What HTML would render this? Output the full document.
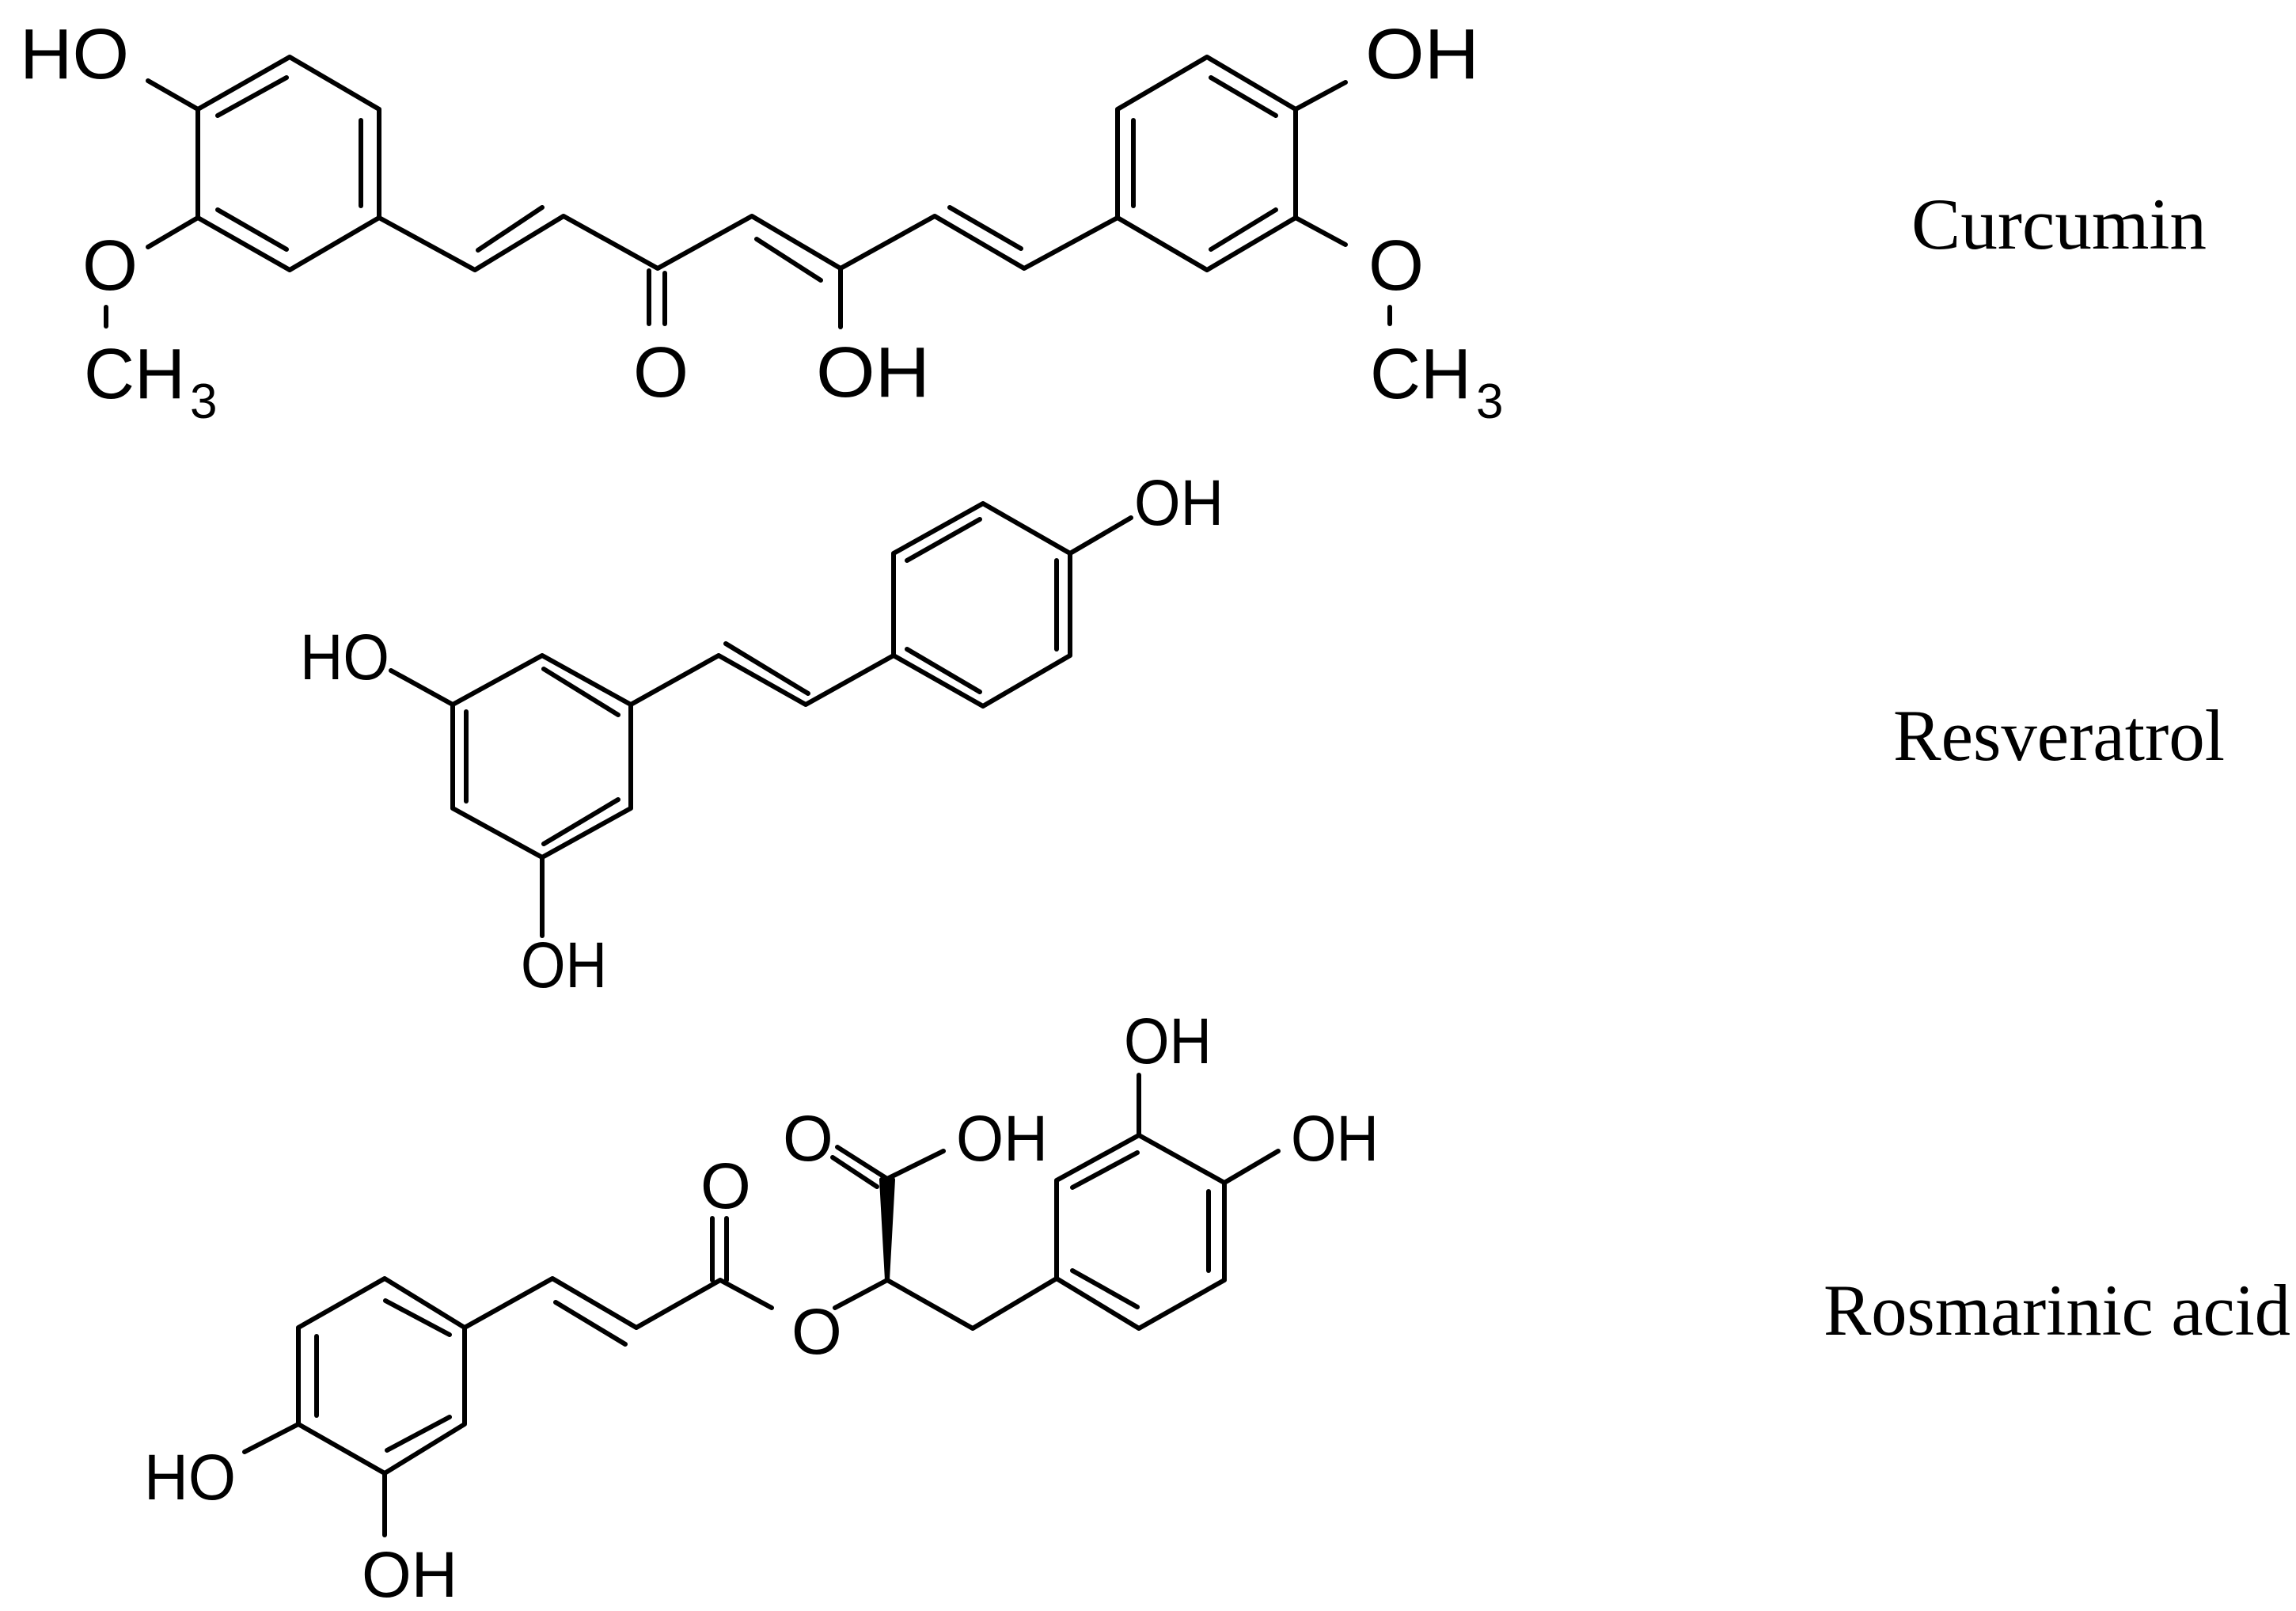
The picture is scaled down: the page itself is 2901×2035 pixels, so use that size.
<!DOCTYPE html>
<html><head><meta charset="utf-8"><style>html,body{margin:0;padding:0;background:#fff}svg{display:block}</style></head>
<body>
<svg width="2901" height="2035" viewBox="0 0 2901 2035" xmlns="http://www.w3.org/2000/svg">
<g stroke="#000" stroke-width="6" fill="none" stroke-linecap="round" stroke-linejoin="round">
<!-- Curcumin left ring -->
<polygon points="366,72 479,138 479,275 366,341 250,275 250,138"/>
<line x1="275" y1="146" x2="362" y2="98"/>
<line x1="456" y1="152" x2="456" y2="260"/>
<line x1="275" y1="265" x2="362" y2="315"/>
<line x1="187" y1="102" x2="250" y2="138"/>
<line x1="250" y1="275" x2="187" y2="312"/>
<line x1="134" y1="388" x2="134" y2="412"/>
<!-- chain -->
<polyline points="479,275 600,341 712,273 831,339 950,273 1062,339 1181,273 1294,339 1412,275"/>
<line x1="604" y1="316" x2="685" y2="262"/>
<line x1="956" y1="302" x2="1037" y2="354"/>
<line x1="1200" y1="262" x2="1290" y2="314"/>
<line x1="820" y1="342" x2="820" y2="409"/>
<line x1="840" y1="345" x2="840" y2="409"/>
<line x1="1062" y1="339" x2="1062" y2="413"/>
<!-- right ring -->
<polygon points="1412,275 1412,138 1525,72 1637,138 1637,275 1525,341"/>
<line x1="1432" y1="152" x2="1432" y2="260"/>
<line x1="1530" y1="98" x2="1612" y2="146"/>
<line x1="1530" y1="315" x2="1612" y2="265"/>
<line x1="1637" y1="138" x2="1700" y2="104"/>
<line x1="1637" y1="275" x2="1700" y2="309"/>
<line x1="1756" y1="388" x2="1756" y2="409"/>

<!-- Resveratrol -->
<polygon points="685,828 797,890 797,1021 685,1083 572,1021 572,890"/>
<line x1="687" y1="845" x2="781" y2="903"/>
<line x1="589" y1="899" x2="589" y2="1012"/>
<line x1="687" y1="1066" x2="781" y2="1010"/>
<line x1="494" y1="847" x2="572" y2="890"/>
<line x1="685" y1="1083" x2="685" y2="1182"/>
<polyline points="797,890 908,828 1018,890 1129,828"/>
<line x1="917" y1="813" x2="1021" y2="876"/>
<polygon points="1129,828 1129,699 1242,636 1352,699 1352,828 1242,892"/>
<line x1="1146" y1="708" x2="1238" y2="656"/>
<line x1="1335" y1="708" x2="1335" y2="820"/>
<line x1="1146" y1="820" x2="1238" y2="874"/>
<line x1="1352" y1="699" x2="1429" y2="654"/>

<!-- Rosmarinic acid -->
<polygon points="486,1615 587,1677 587,1799 486,1861 377,1799 377,1677"/>
<line x1="487" y1="1643" x2="568" y2="1686"/>
<line x1="400" y1="1688" x2="400" y2="1788"/>
<line x1="489" y1="1832" x2="568" y2="1790"/>
<line x1="377" y1="1799" x2="309" y2="1834"/>
<line x1="486" y1="1861" x2="486" y2="1939"/>
<polyline points="587,1677 698,1615 804,1677 910,1617 975,1652"/>
<line x1="702" y1="1645" x2="790" y2="1698"/>
<line x1="900" y1="1617" x2="900" y2="1539"/>
<line x1="918" y1="1617" x2="918" y2="1539"/>
<polyline points="1055,1652 1121,1617 1229,1678 1335,1615"/>
<polygon points="1121,1617 1114,1490 1128,1490" fill="#000"/>
<line x1="1121" y1="1489" x2="1058" y2="1449"/>
<line x1="1108" y1="1499" x2="1052" y2="1462"/>
<line x1="1121" y1="1489" x2="1192" y2="1454"/>
<polygon points="1335,1615 1335,1491 1439,1434 1547,1494 1547,1617 1439,1678"/>
<line x1="1355" y1="1500" x2="1437" y2="1456"/>
<line x1="1527" y1="1505" x2="1527" y2="1605"/>
<line x1="1355" y1="1605" x2="1437" y2="1651"/>
<line x1="1439" y1="1434" x2="1439" y2="1358"/>
<line x1="1547" y1="1494" x2="1615" y2="1454"/>
</g>
<g font-family="'Liberation Sans', sans-serif" fill="#000" font-size="90">
<text x="25" y="99" textLength="138" lengthAdjust="spacingAndGlyphs">HO</text>
<text x="104" y="366">O</text>
<text x="106" y="503" textLength="128" lengthAdjust="spacingAndGlyphs">CH</text>
<text x="240" y="528" font-size="62">3</text>
<text x="800" y="501">O</text>
<text x="1031" y="501" textLength="144" lengthAdjust="spacingAndGlyphs">OH</text>
<text x="1725" y="99" textLength="144" lengthAdjust="spacingAndGlyphs">OH</text>
<text x="1729" y="366">O</text>
<text x="1731" y="503" textLength="128" lengthAdjust="spacingAndGlyphs">CH</text>
<text x="1865" y="528" font-size="62">3</text>
</g>
<g font-family="'Liberation Sans', sans-serif" fill="#000" font-size="82">
<text x="379" y="858" textLength="113" lengthAdjust="spacingAndGlyphs">HO</text>
<text x="658" y="1247" textLength="109" lengthAdjust="spacingAndGlyphs">OH</text>
<text x="1433" y="663" textLength="113" lengthAdjust="spacingAndGlyphs">OH</text>
<text x="182" y="1894" textLength="116" lengthAdjust="spacingAndGlyphs">HO</text>
<text x="457" y="2017" textLength="121" lengthAdjust="spacingAndGlyphs">OH</text>
<text x="885" y="1526">O</text>
<text x="1000" y="1710">O</text>
<text x="989" y="1466">O</text>
<text x="1208" y="1466" textLength="116" lengthAdjust="spacingAndGlyphs">OH</text>
<text x="1420" y="1343" textLength="111" lengthAdjust="spacingAndGlyphs">OH</text>
<text x="1631" y="1466" textLength="111" lengthAdjust="spacingAndGlyphs">OH</text>
</g>
<g font-family="'Liberation Serif', serif" fill="#000" font-size="92">
<text x="2415" y="314" textLength="373" lengthAdjust="spacingAndGlyphs">Curcumin</text>
<text x="2392" y="960" textLength="419" lengthAdjust="spacingAndGlyphs">Resveratrol</text>
<text x="2304" y="1686" textLength="590" lengthAdjust="spacingAndGlyphs">Rosmarinic acid</text>
</g>
</svg>
</body></html>
